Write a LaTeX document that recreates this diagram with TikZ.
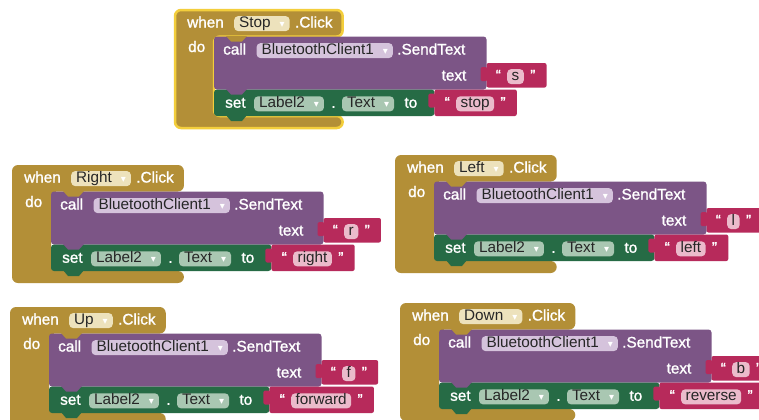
\documentclass[tikz,border=0pt]{standalone}
\usepackage{fontspec}
\setmainfont{Liberation Sans}
\newfontfamily\lblfont[FakeBold=1.3]{Liberation Sans}
\newfontfamily\dvfont{DejaVu Sans}
\usetikzlibrary{calc}
\definecolor{blkgold}{HTML}{B38F37}
\definecolor{blkpurple}{HTML}{7C5586}
\definecolor{blkgreen}{HTML}{266B45}
\definecolor{blkred}{HTML}{B72A5B}
\definecolor{blkgoldpill}{HTML}{EDE2BC}
\definecolor{blkpurplepill}{HTML}{D5C3DC}
\definecolor{blkgreenpill}{HTML}{A9C7B2}
\definecolor{blkredpill}{HTML}{EBBBCB}
\definecolor{blkhl}{HTML}{F3CE3C}
\pgfdeclarelayer{back}\pgfdeclarelayer{bg}\pgfsetlayers{back,bg,main}
\newcommand\dd[1]{#1\hspace{9bp}{\dvfont\fontsize{10bp}{10bp}\selectfont\textcolor{white}{▾}}\hspace{8bp}}
\tikzset{
 lbl/.style={inner sep=0pt, anchor=base west, text=white, font=\lblfont\fontsize{15.3bp}{18bp}\selectfont},
 ddpill/.style={anchor=base west, rounded corners=4bp, inner xsep=5bp, inner ysep=0.8bp,
   text height=10.6bp, text depth=2.8bp, text=black!85, font=\fontsize{15.3bp}{18bp}\selectfont},
 vpill/.style={ddpill, fill=blkredpill, inner xsep=4.5bp},
}
% #1 prefix, #2 x0, #3 y0, #4 event, #5 char, #6 label, #7 extra gold style
\newcommand\evblock[7]{%
\begin{scope}[shift={(#2,#3)}]
\coordinate (#1O) at (0,0);
\coordinate (#1A) at (0,26.5);
\coordinate (#1B) at (0,79.5);
\coordinate (#1C) at (0,106);
\coordinate (#1D) at (0,118);
\coordinate (#1T1) at (0,53);
\coordinate (#1T2) at (0,77.5);
\coordinate (#1L) at (39,0);
\coordinate (#1tb) at (0,70.5);
\coordinate (#1gb) at (0,97.75);
% header
\node[lbl] (#1when) at (12,17.5) {when};
\node[ddpill,fill=blkgoldpill] (#1ev) at ([xshift=10bp]#1when.base east) {\dd{#4}};
\node[lbl] (#1click) at ([xshift=5bp]#1ev.base east) {.Click};
\coordinate (#1H) at ([xshift=10bp]#1click.east);
\node[lbl] (#1do) at (13,42) {do};
% call row
\node[lbl] (#1call) at (48,44.5) {call};
\node[ddpill,fill=blkpurplepill] (#1bt) at ([xshift=10bp]#1call.base east) {\dd{BluetoothClient1}};
\node[lbl] (#1send) at ([xshift=4bp]#1bt.base east) {.SendText};
\coordinate (#1pr) at ([xshift=21bp]#1send.east);
\coordinate (#1tq) at (#1pr |- #1tb);
\node[lbl,anchor=base east] (#1text) at ([xshift=-20bp]#1tq) {text};
\node[lbl] (#1q1) at ([xshift=9bp]#1tq) {“};
\node[vpill] (#1ch) at ([xshift=6bp]#1q1.base east) {#5};
\node[lbl] (#1q2) at ([xshift=6bp]#1ch.base east) {”};
\coordinate (#1rt) at ([xshift=11bp]#1q2.east);
% set row
\node[lbl] (#1set) at (50,97.75) {set};
\node[ddpill,fill=blkgreenpill] (#1lab) at ([xshift=8bp]#1set.base east) {\dd{Label2}};
\node[lbl] (#1dot) at ([xshift=7bp]#1lab.base east) {.};
\node[ddpill,fill=blkgreenpill] (#1prop) at ([xshift=6bp]#1dot.base east) {\dd{Text}};
\node[lbl] (#1to) at ([xshift=10bp]#1prop.base east) {to};
\coordinate (#1gr) at ([xshift=17bp]#1to.east);
\coordinate (#1gq) at (#1gr |- #1gb);
\node[lbl] (#1r1) at ([xshift=10bp]#1gq) {“};
\node[vpill] (#1lv) at ([xshift=6bp]#1r1.base east) {#6};
\node[lbl] (#1r2) at ([xshift=6bp]#1lv.base east) {”};
\coordinate (#1rb) at ([xshift=11bp]#1r2.east);
\begin{pgfonlayer}{bg}
\path[fill=blkgold,rounded corners=6bp,#7] (#1O) -- (#1H |- #1O) -- (#1H |- #1A) -- (#1L |- #1A)
  -- (#1L |- #1C) -- (#1H |- #1C) -- (#1H |- #1D) -- (#1O |- #1D) -- cycle;
\fill[blkpurple,rounded corners=3bp] (#1L |- #1A) rectangle (#1pr |- #1B);
\fill[blkgold] (51,26) -- (56,31.5) -- (67,31.5) -- (72,26) -- cycle;
\fill[blkgreen,rounded corners=3bp] (#1L |- #1B) rectangle (#1gr |- #1C);
\fill[blkpurple] (51,79) -- (56,84.5) -- (67,84.5) -- (72,79) -- cycle;
\fill[blkgreen] (51,105) -- (56,111) -- (67,111) -- (72,105) -- cycle;
\fill[blkred,rounded corners=2bp] (#1pr |- #1T1) rectangle (#1rt |- #1T2);
\fill[blkred,rounded corners=1.5bp] (#1pr |- #1T1) ++(1,4) -- ++(-7,0) -- ++(0,14) -- ++(7,0) -- cycle;
\fill[blkred,rounded corners=2bp] (#1gr |- #1B) rectangle (#1rb |- #1C);
\fill[blkred,rounded corners=1.5bp] (#1gr |- #1B) ++(1,4) -- ++(-7,0) -- ++(0,14) -- ++(7,0) -- cycle;
\end{pgfonlayer}
\end{scope}}
\begin{document}
\begin{tikzpicture}[x=1bp,y=-1bp]
\useasboundingbox (0,0) rectangle (759,419);
\begin{pgfonlayer}{back}
\fill[white] (0,0) rectangle (759,419);
\end{pgfonlayer}
\evblock{s}{175}{10}{Stop}{s}{stop}{draw=blkhl,line width=2.5bp}
\evblock{r}{12}{165}{Right}{r}{right}{}
\evblock{l}{395}{155}{Left}{l}{left}{}
\evblock{u}{10}{307}{Up}{f}{forward}{}
\evblock{d}{400}{303}{Down}{b}{reverse}{}
\end{tikzpicture}
\end{document}
